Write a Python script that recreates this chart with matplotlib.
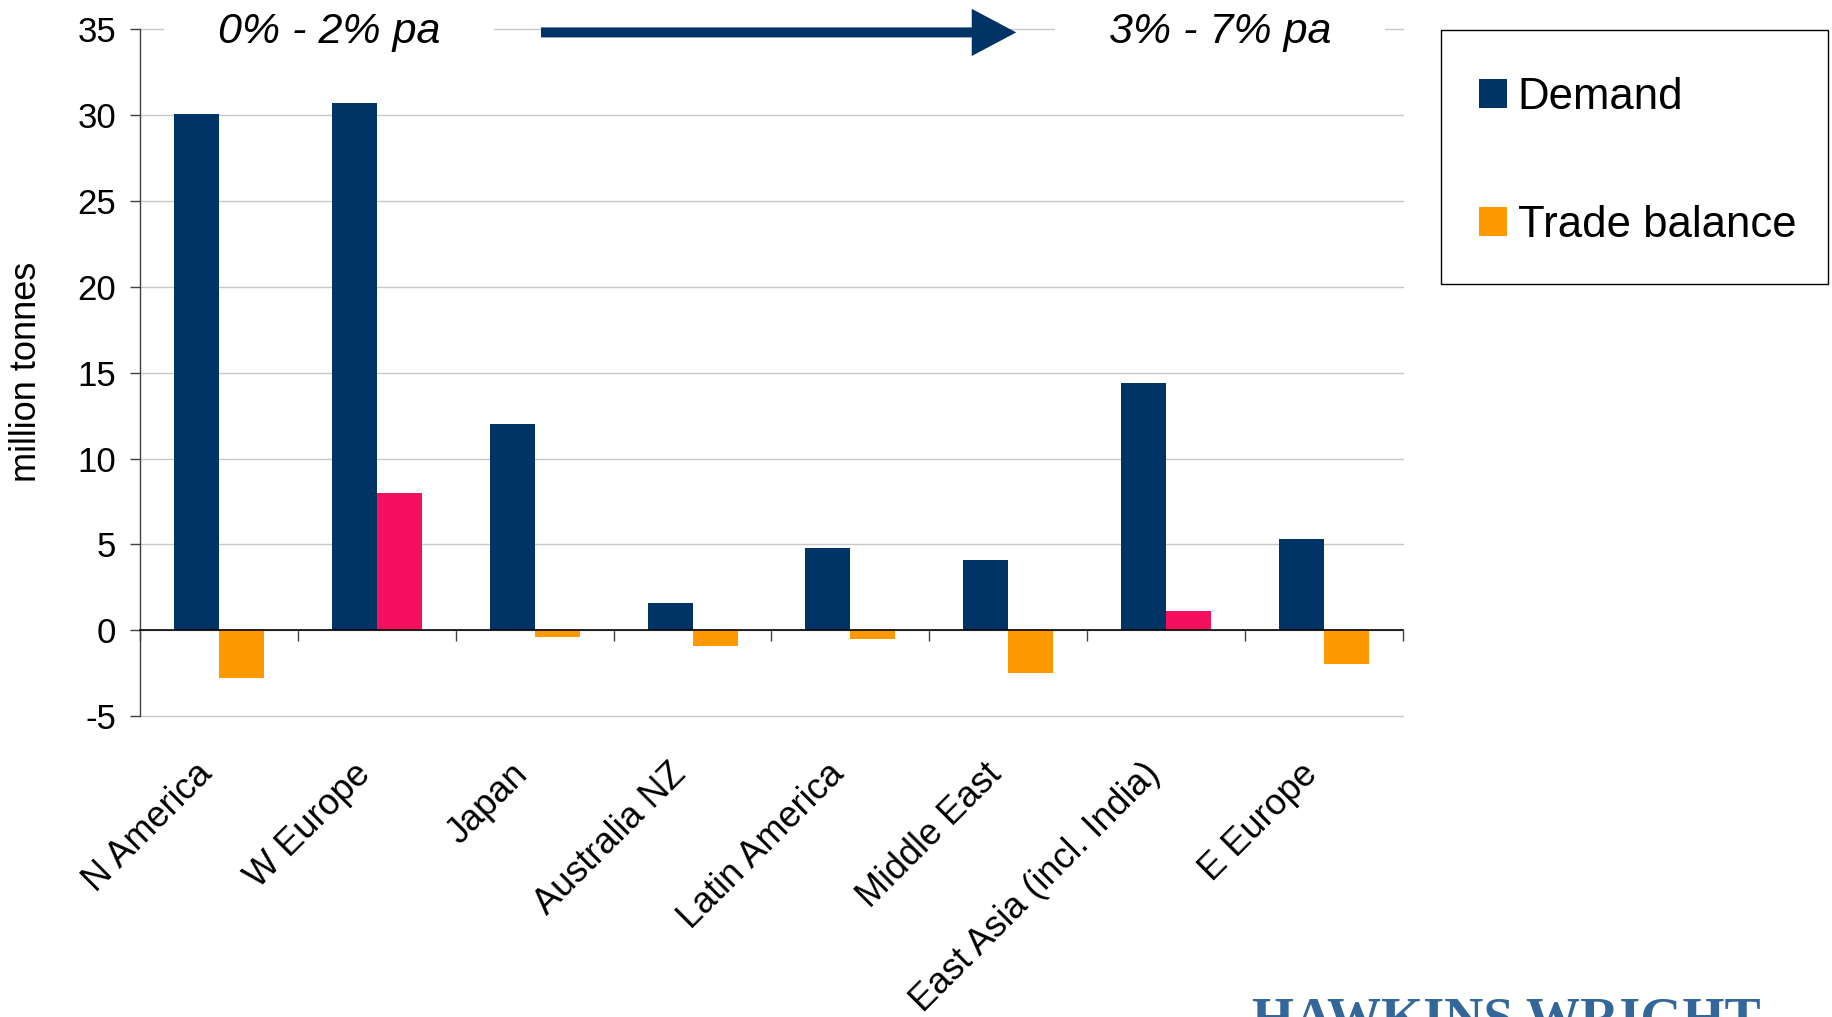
import matplotlib
matplotlib.use("Agg")
import matplotlib.pyplot as plt
from matplotlib.patches import Patch, Rectangle
from matplotlib.transforms import ScaledTranslation
import numpy as np

# ---- data ----
regions = ["N America", "W Europe", "Japan", "Australia NZ", "Latin America",
           "Middle East", "East Asia (incl. India)", "E Europe"]
demand = [30.1, 30.7, 12.0, 1.6, 4.8, 4.1, 14.4, 5.3]
trade_balance = [-2.8, 8.0, -0.4, -0.9, -0.5, -2.5, 1.1, -2.0]
y_ticks = [-5, 0, 5, 10, 15, 20, 25, 30, 35]
growth_labels = ["0% - 2% pa", "3% - 7% pa"]
growth_label_x = [0.70, 6.34]
legend_labels = ["Demand", "Trade balance"]

# ---- styling ----
NAVY = "#003366"
ORANGE = "#FF9900"
PINK = "#F50F5F"
GRID = "#C8C8C8"
TICKC = "#404040"

plt.rcParams["font.family"] = ["Liberation Sans", "DejaVu Sans"]
plt.rcParams["axes.unicode_minus"] = False

W_PX, H_PX = 1832, 1017
fig = plt.figure(figsize=(W_PX / 100, H_PX / 100), dpi=100)
ax = fig.add_axes([0.07642, 0.2960, 0.6894, 0.6750])

x = np.arange(len(regions))
w = 0.285
ax.bar(x - w / 2, demand, w, color=NAVY, zorder=2)
tb_colors = [PINK if v > 0 else ORANGE for v in trade_balance]
ax.bar(x + w / 2, trade_balance, w, color=tb_colors, zorder=2)

ax.set_xlim(-0.5, len(regions) - 0.5)
ax.set_ylim(y_ticks[0], y_ticks[-1])
ax.set_yticks(y_ticks)
ax.yaxis.grid(True, color=GRID, lw=1.0)
ax.set_axisbelow(True)
for gl in ax.get_ygridlines():
    gl.set_clip_on(False)

for s in ("top", "right"):
    ax.spines[s].set_visible(False)
ax.spines["left"].set_color(TICKC)
ax.spines["left"].set_linewidth(1.0)
ax.spines["bottom"].set_position(("data", 0))
ax.spines["bottom"].set_color("black")
ax.spines["bottom"].set_linewidth(1.2)

ax.tick_params(axis="y", direction="out", length=7.2, width=1, color=TICKC,
               pad=10, labelsize=25)
ax.set_xticks(x)
ax.set_xticklabels(regions, rotation=45, ha="right", va="center",
                   rotation_mode="anchor", fontsize=26)
ax.tick_params(axis="x", which="major", length=0, pad=100)
shift = ScaledTranslation(-0.12, 0, fig.dpi_scale_trans)
for lbl in ax.get_xticklabels():
    lbl.set_transform(lbl.get_transform() + shift)
ax.set_xticks(np.arange(-0.5, len(regions), 1), minor=True)
ax.tick_params(axis="x", which="minor", length=8, width=1, direction="out",
               color=TICKC)

fig.text(27 / W_PX, 1 - 372 / H_PX, "million tonnes", rotation=90,
         ha="center", va="center", fontsize=26)

# growth-rate annotations with the arrow between them
for label, xc in zip(growth_labels, growth_label_x):
    ax.text(xc, 34.23, label, ha="center", va="baseline", fontsize=31,
            style="italic", zorder=1,
            bbox=dict(facecolor="white", edgecolor="none",
                      boxstyle="square,pad=1.25"))

ax.annotate("", xy=(5.05, 34.83), xytext=(2.04, 34.83),
            arrowprops=dict(arrowstyle="simple,head_length=32,head_width=34,tail_width=7.2",
                            mutation_scale=1, color=NAVY, lw=0,
                            shrinkA=0, shrinkB=0),
            zorder=3)

# legend: frame drawn separately so its size is fixed
fig.add_artist(Rectangle((1441 / W_PX, 1 - 284 / H_PX), 387 / W_PX, 254 / H_PX,
                         transform=fig.transFigure, facecolor="white",
                         edgecolor="black", lw=1.0, zorder=4))
handles = [Patch(facecolor=NAVY, label=legend_labels[0]),
           Patch(facecolor=ORANGE, label=legend_labels[1])]
leg = fig.legend(handles=handles, loc="upper left",
                 bbox_to_anchor=(1479 / W_PX, 1 - 77 / H_PX),
                 bbox_transform=fig.transFigure, borderaxespad=0, borderpad=0,
                 fontsize=31.5, labelspacing=1.99,
                 handlelength=0.65, handleheight=0.65, handletextpad=0.23,
                 frameon=False)
leg.set_zorder(5)

fig.text(1252 / W_PX, -0.0177, "HAWKINS WRIGHT", fontfamily="Liberation Serif",
         fontweight="bold", fontsize=39, color="#336699", ha="left", va="baseline")

fig.savefig("out.png", dpi=100, facecolor="white")
